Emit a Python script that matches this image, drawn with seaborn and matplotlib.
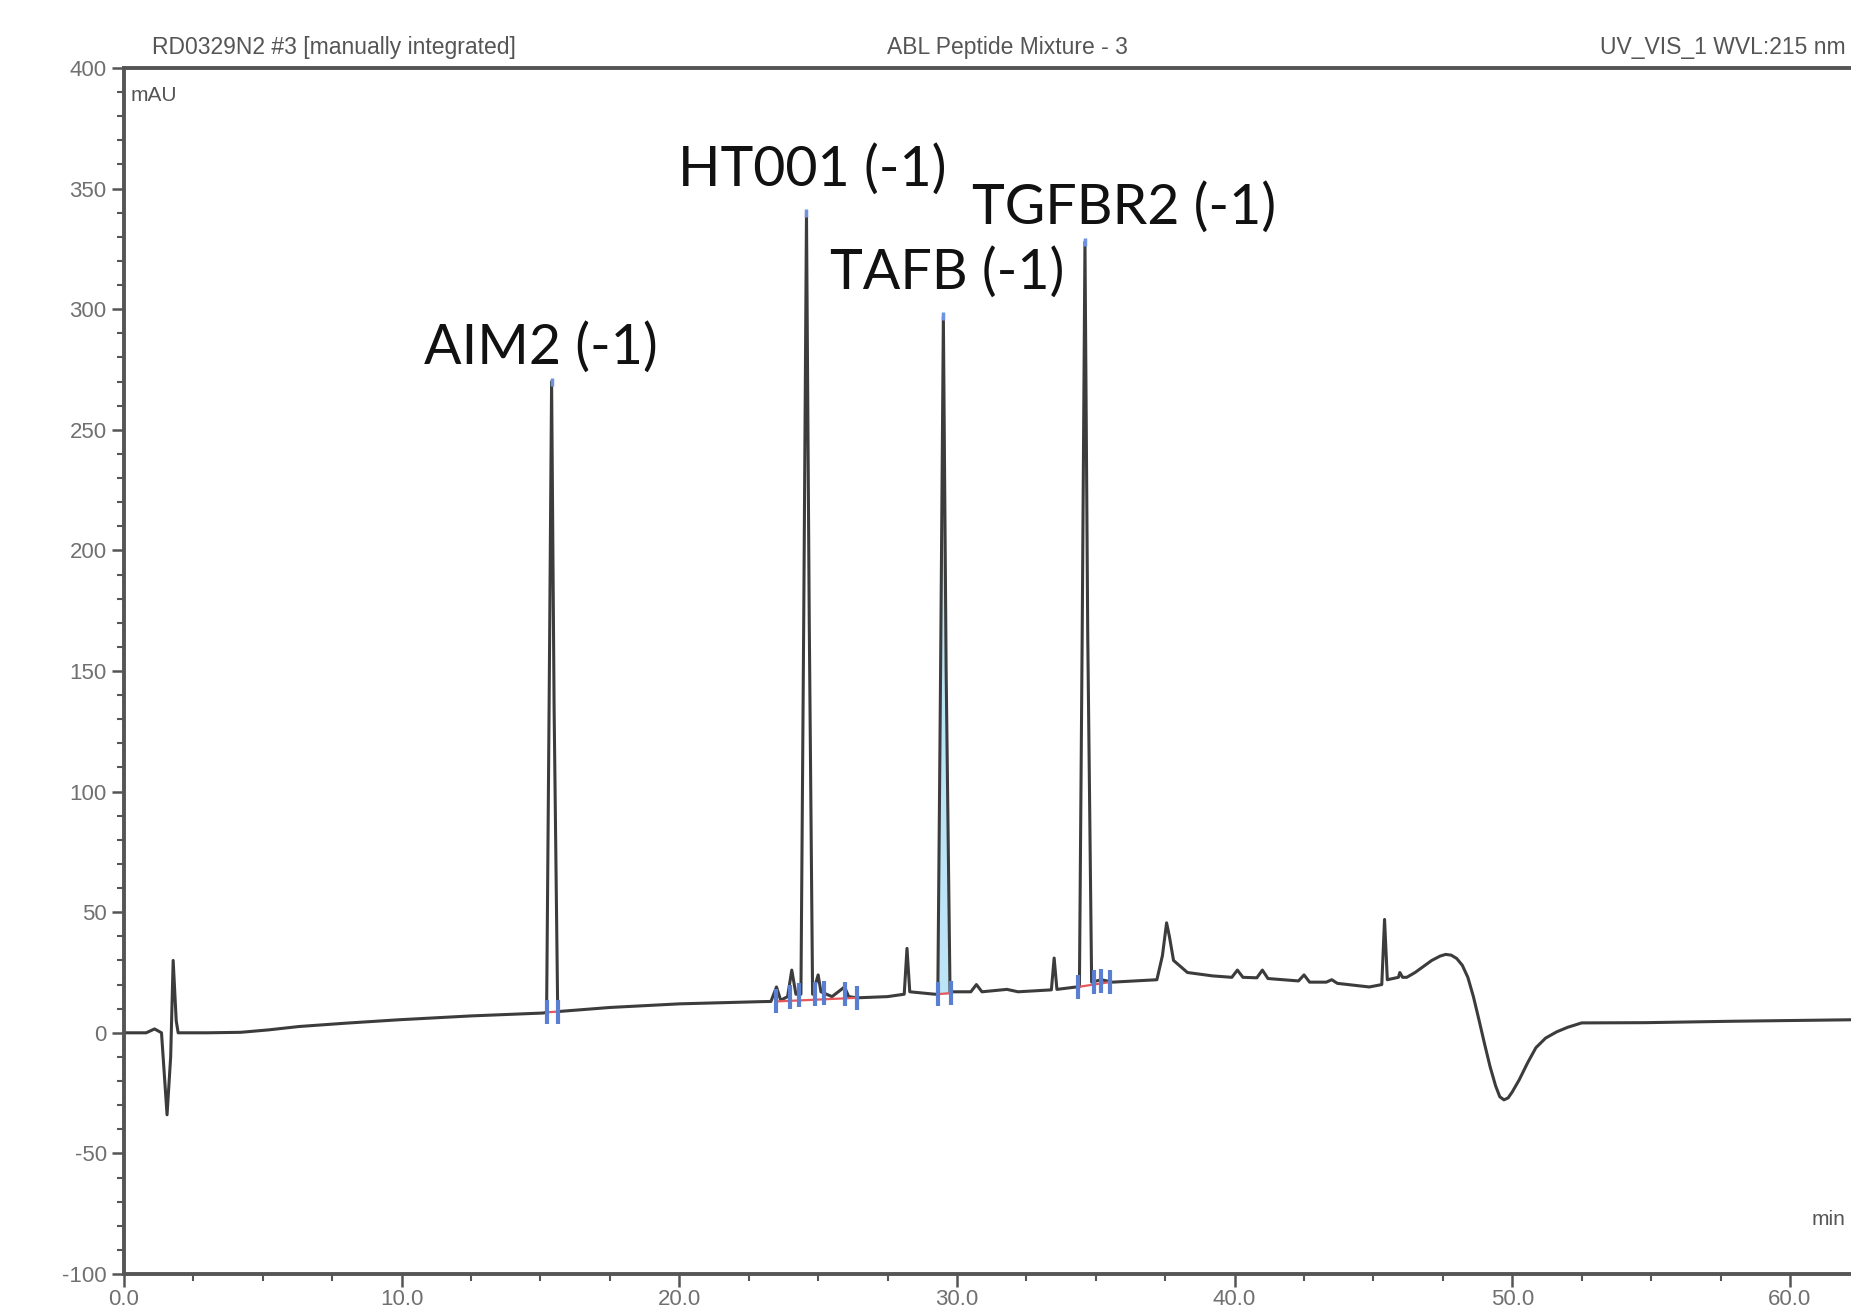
import matplotlib
matplotlib.use("Agg")
import matplotlib.pyplot as plt
import numpy as np
import seaborn as sns
from matplotlib.ticker import MultipleLocator, FormatStrFormatter

# chromatogram trace (retention time in min, signal in mAU)
trace_t = [0.0, 0.8, 1.1, 1.35, 1.55, 1.68, 1.77, 1.88, 1.95, 3.0, 4.2, 5.2, 6.3, 8.0, 9.9, 12.5, 15.1,
           15.22, 15.31, 15.4, 15.49, 15.62,
           17.5, 20.0, 22.9, 23.3, 23.5, 23.65, 23.9, 24.05, 24.2,
           24.38, 24.48, 24.58, 24.68, 24.8,
           25.0, 25.1, 25.5, 25.95, 26.1, 26.4, 27.5, 28.1, 28.2, 28.3, 29.2,
           29.31, 29.41, 29.51, 29.61, 29.75,
           30.5, 30.7, 30.9, 31.8, 32.2, 33.4, 33.5, 33.6, 34.3,
           34.41, 34.51, 34.61, 34.71, 34.85,
           35.2, 35.6, 37.2, 37.4, 37.55, 37.65, 37.8, 38.3, 39.2, 39.9, 40.1, 40.3, 40.8, 41.0,
           41.2, 42.3, 42.5, 42.7, 43.3, 43.5, 43.7, 44.85, 45.3, 45.4, 45.5, 45.9, 45.95, 46.05,
           46.2, 46.5, 46.8, 47.1, 47.4, 47.6, 47.8, 48.0, 48.2, 48.4, 48.6, 48.8, 49.0, 49.2,
           49.4, 49.55, 49.7, 49.85, 50.0, 50.25, 50.55, 50.85, 51.2, 51.6, 52.0, 52.5, 54.8,
           58.0, 62.2]
trace_v = [0.0, 0.0, 1.6, 0.0, -34.0, -10.0, 30.0, 5.0, 0.0, 0.0, 0.2, 1.2, 2.6, 4.0, 5.4, 7.0, 8.2,
           8.5, 135.0, 270.0, 135.0, 8.8,
           10.5, 12.0, 12.9, 13.0, 19.0, 13.5, 15.0, 26.0, 16.0,
           16.0, 170.0, 340.0, 170.0, 16.0,
           24.0, 17.0, 15.0, 19.0, 15.0, 14.5, 15.0, 16.0, 35.0, 17.0, 16.0,
           16.0, 150.0, 297.0, 150.0, 17.0,
           17.0, 20.0, 17.0, 18.0, 17.0, 17.8, 31.0, 18.0, 19.0,
           19.0, 165.0, 328.0, 165.0, 21.0,
           22.0, 21.0, 22.0, 32.0, 45.6, 40.0, 30.0, 25.0, 23.6, 23.0, 26.0, 23.0, 22.8, 26.0,
           22.5, 21.5, 24.0, 21.0, 21.0, 22.0, 20.5, 19.0, 20.0, 47.0, 22.0, 23.0, 25.0, 23.0,
           23.0, 25.0, 27.5, 30.0, 31.8, 32.5, 32.2, 30.8, 28.0, 23.0, 15.0, 5.4, -4.5, -14.0,
           -22.0, -26.5, -27.8, -27.0, -24.5, -19.5, -12.5, -6.2, -2.2, 0.4, 2.3, 4.1, 4.2,
           4.8, 5.4]

# integration marks (peak start / end) and baselines
mark_t = [15.25, 15.62, 23.5, 24.0, 24.3, 24.9, 25.2, 25.95, 26.4,
          29.3, 29.8, 34.35, 34.95, 35.2, 35.5]
mark_v = [8.5, 8.8, 13.0, 15.0, 15.5, 16.0, 16.5, 16.0, 14.5,
          16.0, 16.5, 19.0, 21.0, 21.5, 21.0]
base_segments = [(15.25, 8.5, 15.62, 8.8), (23.5, 13.0, 26.4, 14.5),
                 (29.3, 16.0, 29.8, 16.5), (34.35, 19.0, 35.5, 21.0)]
apex_t = [15.4, 24.58, 29.51, 34.61]
apex_v = [270.0, 340.0, 297.0, 328.0]

peak_labels = ["AIM2 (-1)", "HT001 (-1)", "TAFB (-1)", "TGFBR2 (-1)"]
label_t = [15.0, 24.77, 29.66, 36.03]
label_v = [284.0, 358.0, 315.0, 342.0]

sns.set_style("ticks")
plt.rcParams['font.family'] = ['Liberation Sans', 'DejaVu Sans']
plt.rcParams['axes.unicode_minus'] = False

fig = plt.figure(figsize=(18.51, 13.08), dpi=100)
ax = fig.add_axes([0.067, 0.026, 0.933, 0.922])

sns.lineplot(x=trace_t, y=trace_v, sort=False, estimator=None, color="#3c3c3c", lw=2.2, ax=ax)

# light blue fill under the TAFB peak
ax.fill_between(trace_t[47:52], trace_v[47:52], 16, color="#8fd3f0", alpha=0.6, lw=0)
for x0, y0, x1, y1 in base_segments:
    ax.plot([x0, x1], [y0, y1], color="#e8585a", lw=1.6)
ax.plot(mark_t, mark_v, ls="none", marker="|", ms=17, mew=3, color="#5a7fd0")
ax.plot(apex_t, apex_v, ls="none", marker="|", ms=6, mew=2.5, color="#6f93e0")

for lab, x, y in zip(peak_labels, label_t, label_v):
    ax.text(x, y, lab, ha="center", va="center", fontsize=40, family=["Lato", "DejaVu Sans"], color="#111111")

ax.set_xlim(0, 62.2)
ax.set_ylim(-100, 400)
ax.xaxis.set_major_locator(MultipleLocator(10))
ax.xaxis.set_minor_locator(MultipleLocator(2.5))
ax.xaxis.set_major_formatter(FormatStrFormatter("%.1f"))
ax.yaxis.set_major_locator(MultipleLocator(50))
ax.yaxis.set_minor_locator(MultipleLocator(10))
ax.tick_params(axis="both", which="major", length=9, width=1.8, color="#555555",
               labelsize=16, labelcolor="#707070", direction="out")
ax.tick_params(axis="x", which="major", pad=2)
ax.tick_params(axis="both", which="minor", length=5, width=1.5, color="#555555", direction="out")

for side in ["left", "bottom", "top"]:
    ax.spines[side].set_linewidth(2.8)
    ax.spines[side].set_color("#555555")
ax.spines["right"].set_visible(False)

ax.text(0.004, 0.985, "mAU", transform=ax.transAxes, ha="left", va="top", fontsize=15, color="#555555")
ax.text(0.997, 0.045, "min", transform=ax.transAxes, ha="right", va="center", fontsize=15, color="#555555")

fig.text(0.082, 0.955, "RD0329N2 #3 [manually integrated]", ha="left", va="bottom", fontsize=16.5, color="#555555")
fig.text(0.544, 0.955, "ABL Peptide Mixture - 3", ha="center", va="bottom", fontsize=16.5, color="#555555")
fig.text(0.997, 0.955, "UV_VIS_1 WVL:215 nm", ha="right", va="bottom", fontsize=16.5, color="#555555")

fig.savefig("out.png", dpi=100)
